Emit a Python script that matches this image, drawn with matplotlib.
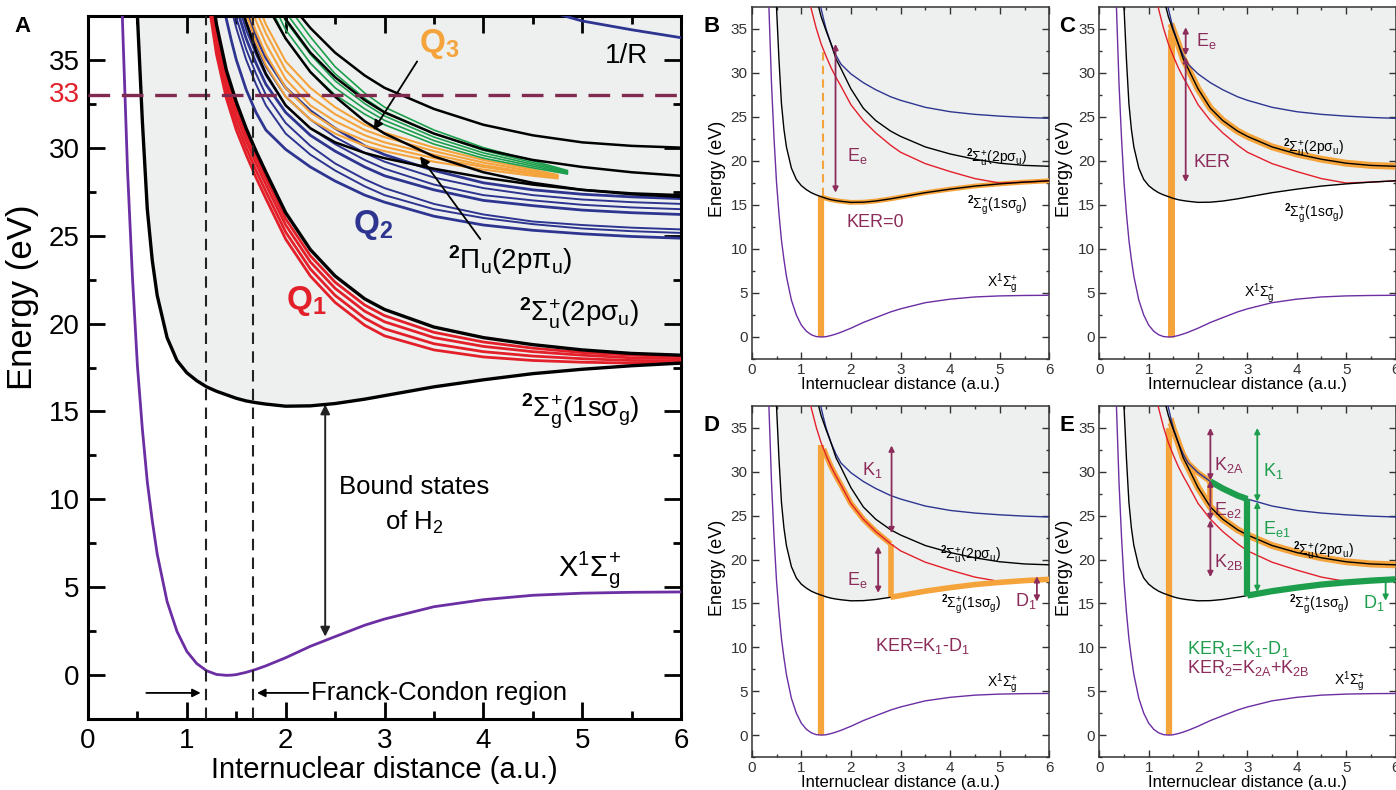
import numpy as np
import matplotlib
matplotlib.use("Agg")
import matplotlib.pyplot as plt

plt.rcParams['font.family'] = ['Liberation Sans', 'DejaVu Sans']
plt.rcParams['mathtext.fontset'] = 'custom'
plt.rcParams['mathtext.rm'] = 'Liberation Sans'
plt.rcParams['mathtext.it'] = 'Liberation Sans:italic'
plt.rcParams['mathtext.bf'] = 'Liberation Sans:bold'
plt.rcParams['mathtext.default'] = 'regular'

nan = np.nan
# ---------------- data (energies in eV, R in a.u.) ----------------
R_grid = [0.30, 0.35, 0.40, 0.45, 0.50, 0.55, 0.60, 0.65, 0.70, 0.80, 0.90, 1.00, 1.10, 1.20,
          1.30, 1.40, 1.45, 1.50, 1.60, 1.70, 1.80, 2.00, 2.25, 2.50, 2.80, 3.00, 3.50, 4.00,
          4.50, 5.00, 5.50, 6.00]
X_state = [48.0, 37.0, 28.7, 22.6, 17.6, 14.0, 11.0, 8.8, 6.9, 4.2, 2.5, 1.36, 0.67, 0.26,
           0.05, 0.0, 0.01, 0.04, 0.17, 0.34, 0.54, 1.0, 1.65, 2.2, 2.85, 3.2, 3.9, 4.3,
           4.55, 4.67, 4.72, 4.74]
S_1ssg = [75, 62, 52, 44, 37.5, 31.5, 26.5, 23.6, 21.6, 19.2, 17.9, 17.2, 16.75, 16.4,
          16.15, 15.95, 15.85, 15.75, 15.6, 15.5, 15.42, 15.3, 15.32, 15.45, 15.7, 15.9, 16.4, 16.8,
          17.15, 17.4, 17.6, 17.75]

R_hi = [1.00, 1.10, 1.20, 1.30, 1.40, 1.45, 1.50, 1.60, 1.70, 1.80, 2.00, 2.25, 2.50, 2.80,
        3.00, 3.50, 4.00, 4.50, 5.00, 5.50, 6.00]
# panel A: 2p sigma_u and Q1 (red) states
A_2psu = [52, 46, 40.8, 37.0, 34.4, 33.5, 32.6, 31.1, 29.8, 28.6, 26.3, 24.2, 22.7, 21.4, 20.8, 19.8, 19.2, 18.8, 18.5, 18.3, 18.2]
Q1_a = [51.5, 45.6, 40.4, 36.6, 34.0, 33.1, 32.2, 30.75, 29.45, 28.25, 25.95, 23.85, 22.35, 21.05, 20.45, 19.5, 18.95, 18.6, 18.35, 18.2, 18.12]
Q1_b = [51, 45.2, 40.0, 36.2, 33.6, 32.7, 31.8, 30.4, 29.1, 27.9, 25.6, 23.5, 22.0, 20.7, 20.1, 19.2, 18.7, 18.4, 18.2, 18.05, 18.0]
Q1_c = [50.5, 44.7, 39.5, 35.8, 33.2, 32.3, 31.4, 30.0, 28.7, 27.5, 25.2, 23.1, 21.6, 20.3, 19.7, 18.85, 18.4, 18.15, 18.0, 17.9, 17.88]
Q1_d = [50, 44.2, 39.0, 35.3, 32.8, 31.9, 31.0, 29.6, 28.3, 27.1, 24.8, 22.7, 21.2, 19.9, 19.3, 18.5, 18.1, 17.9, 17.8, 17.75, 17.75]
# Q2 (blue) states
Q2_a = [55, 49, 44, 40.2, 37.3, 36.1, 35.0, 33.3, 32.0, 31.0, 29.9, 28.9, 28.1, 27.3, 26.9, 26.1, 25.6, 25.3, 25.1, 24.95, 24.85]
Q2_b = [nan, nan, nan, 41.5, 39.0, 37.9, 36.8, 35.0, 33.6, 32.4, 30.8, 29.6, 28.7, 27.8, 27.3, 26.5, 26.0, 25.65, 25.4, 25.25, 25.15]
Q2_c = [nan, nan, nan, 42.2, 39.6, 38.5, 37.4, 35.6, 34.2, 33.0, 31.4, 30.1, 29.1, 28.2, 27.7, 26.8, 26.2, 25.8, 25.6, 25.45, 25.35]
Q2_d = [nan, nan, nan, 43.0, 40.3, 39.1, 38.0, 36.2, 34.8, 33.6, 32.0, 30.7, 29.8, 28.9, 28.4, 27.6, 27.0, 26.7, 26.45, 26.3, 26.2]
Q2_e = [nan, nan, nan, 43.5, 40.8, 39.6, 38.5, 36.7, 35.3, 34.1, 32.4, 31.1, 30.2, 29.3, 28.8, 27.9, 27.3, 27.0, 26.75, 26.6, 26.5]
Q2_f = [nan, nan, nan, 44.0, 41.3, 40.1, 39.0, 37.2, 35.8, 34.6, 32.9, 31.6, 30.6, 29.7, 29.2, 28.3, 27.7, 27.3, 27.05, 26.9, 26.8]
Q2_g = [nan, nan, nan, nan, 42.0, 40.8, 39.6, 37.8, 36.3, 35.1, 33.4, 32.1, 31.1, 30.1, 29.6, 28.7, 28.0, 27.6, 27.35, 27.2, 27.1]
# upper black states
Pi_u = [nan, nan, nan, nan, nan, 41.0, 39.0, 37.1, 35.5, 34.2, 32.4, 31.1, 30.3, 29.7, 29.4, 28.8, 28.3, 27.9, 27.6, 27.4, 27.3]
K_a = [nan, nan, nan, nan, nan, nan, nan, nan, 42.0, 40.5, 38.5, 36.8, 35.4, 34.1, 33.4, 32.2, 31.3, 30.7, 30.3, 30.1, 30.0]
K_b = [nan, nan, nan, nan, nan, nan, nan, nan, 41.0, 39.5, 37.3, 35.4, 34.0, 32.7, 32.0, 30.8, 29.9, 29.3, 28.9, 28.6, 28.4]
K_c = [nan, nan, nan, nan, nan, nan, nan, 41.0, 39.5, 38.2, 36.2, 34.3, 32.9, 31.5, 30.8, 29.5, 28.6, 28.0, 27.6, 27.35, 27.2]
# Q3 (orange) and green states
R_Q3 = [1.5, 1.6, 1.7, 1.8, 2.0, 2.25, 2.5, 2.8, 3.0, 3.5, 4.0, 4.5, 4.75]
Q3_a = [39.5, 37.6, 36.0, 34.7, 32.9, 31.6, 30.8, 30.1, 29.8, 29.2, 28.75, 28.4, 28.25]
Q3_b = [40.2, 38.2, 36.6, 35.3, 33.4, 32.0, 31.1, 30.4, 30.05, 29.4, 28.9, 28.5, 28.3]
Q3_c = [40.8, 38.8, 37.2, 35.9, 33.9, 32.4, 31.5, 30.7, 30.3, 29.6, 29.0, 28.55, 28.35]
Q3_d = [41.4, 39.4, 37.8, 36.5, 34.4, 32.9, 31.9, 31.0, 30.6, 29.8, 29.15, 28.65, 28.4]
Q3_e = [42.0, 40.0, 38.4, 37.0, 34.9, 33.4, 32.3, 31.3, 30.85, 30.0, 29.3, 28.75, 28.45]
R_G = [1.6, 1.7, 1.8, 2.0, 2.25, 2.5, 2.8, 3.0, 3.5, 4.0, 4.5, 4.85]
G_a = [42.0, 40.0, 38.5, 36.2, 34.3, 33.0, 31.9, 31.3, 30.2, 29.4, 28.85, 28.5]
G_b = [42.5, 40.5, 39.0, 36.7, 34.8, 33.4, 32.2, 31.55, 30.4, 29.55, 28.95, 28.55]
G_c = [nan, 41.0, 39.5, 37.2, 35.3, 33.8, 32.5, 31.8, 30.6, 29.7, 29.05, 28.6]
G_d = [nan, 41.5, 40.0, 37.7, 35.8, 34.2, 32.8, 32.05, 30.8, 29.85, 29.15, 28.65]
G_e = [nan, 42.0, 40.5, 38.2, 36.3, 34.6, 33.1, 32.3, 31.0, 30.0, 29.25, 28.7]
# Coulomb 1/R curve
R_coul = [4.5, 5.0, 5.5, 6.0]
E_coul = [38.0, 37.2, 36.7, 36.25]
# small panels (B-E) curves on R_hi
S_2psu = [50, 45, 41, 38.6, 36.4, 35.6, 34.8, 33.3, 31.6, 30.5, 28.2, 26.0, 24.6, 23.4, 22.8, 21.6, 20.8, 20.2, 19.75, 19.5, 19.4]
S_red = [43, 40, 37.3, 35.1, 33.3, 32.6, 31.9, 30.6, 29.5, 28.5, 26.4, 24.6, 23.2, 21.8, 21.0, 19.7, 18.8, 18.0, 17.5, 17.6, 17.75]
S_blue = Q2_a

FC_bounds = [1.19, 1.67]
E_probe = 33.0

# ---------------- style ----------------
PURPLE = '#6c2ea3'
RED = '#e3202a'
BLUE = '#2d3590'
ORANGE = '#f5a33b'
GREEN = '#1d9e4c'
MAROON = '#8c2c5a'
FILL = '#eef0f0'

W, H = 1396, 790
fig = plt.figure(figsize=(W / 100, H / 100), dpi=100)


def box(l, t, r, b):
    return [l / W, 1 - b / H, (r - l) / W, (b - t) / H]


axA = fig.add_axes(box(88, 15.7, 681, 719.3))
axB = fig.add_axes(box(751.7, 7, 1049.3, 359))
axC = fig.add_axes(box(1099.3, 7, 1395.5, 359))
axD = fig.add_axes(box(751.7, 406, 1049.3, 757))
axE = fig.add_axes(box(1099.3, 406, 1395.5, 757))

Rg = np.array(R_grid)
Rh = np.array(R_hi)


def style(ax, big):
    ax.set_xlim(0, 6)
    ax.set_ylim(-2.5, 37.5)
    ax.set_xticks(range(7))
    ax.set_xticks(np.arange(0.5, 6, 1.0), minor=True)
    ax.set_yticks(range(0, 36, 5))
    ax.set_yticks(np.arange(-2.5, 37.5, 5), minor=True)
    if big:
        ax.tick_params(which='major', direction='in', length=12, width=2, labelsize=20,
                       top=True, right=True, pad=6)
        ax.tick_params(which='minor', direction='in', length=6, width=2, top=True, right=True)
        for s in ax.spines.values():
            s.set_linewidth(2.2)
    else:
        ax.tick_params(which='major', direction='in', length=5, width=1, labelsize=11,
                       top=True, right=True, pad=3, colors='#333333')
        ax.tick_params(which='minor', direction='in', length=2.5, width=1, top=True, right=True,
                       colors='#333333')
        for s in ax.spines.values():
            s.set_linewidth(1.1)
            s.set_color('#333333')


L_1ssg = r'$^{\mathbf{2}}\Sigma_{g}^{+}(1s\sigma_{g})$'
L_2psu = r'$^{\mathbf{2}}\Sigma_{u}^{+}(2p\sigma_{u})$'
L_X = r'$X^{1}\Sigma_{g}^{+}$'
L_pi = r'$^{\mathbf{2}}\Pi_{u}(2p\pi_{u})$'

# ---------------- Panel A ----------------
ax = axA
style(ax, True)
ax.fill_between(Rg, S_1ssg, 37.5, color=FILL, zorder=0, lw=0)
ax.plot(Rg, X_state, color=PURPLE, lw=2.0, zorder=3)
for c in [Q2_b, Q2_c, Q2_e, Q2_f]:
    ax.plot(Rh, c, color=BLUE, lw=1.4, zorder=2)
for c in [Q2_a, Q2_d, Q2_g]:
    ax.plot(Rh, c, color=BLUE, lw=2.0, zorder=2)
for c in [Q3_a, Q3_b, Q3_c, Q3_d, Q3_e]:
    ax.plot(R_Q3, c, color=ORANGE, lw=1.5, zorder=2)
for c in [G_a, G_b, G_c, G_d, G_e]:
    ax.plot(R_G, c, color=GREEN, lw=1.2, zorder=2)
for c in [Pi_u, K_a, K_b, K_c]:
    ax.plot(Rh, c, color='black', lw=1.8, zorder=3)
for c in [Q1_a, Q1_b, Q1_c, Q1_d]:
    ax.plot(Rh, c, color=RED, lw=2.0, zorder=3)
ax.plot(Rh, A_2psu, color='black', lw=2.4, zorder=4)
ax.plot(Rg, S_1ssg, color='black', lw=2.4, zorder=4)
ax.plot(R_coul, E_coul, color=BLUE, lw=2.0, zorder=3)
ax.axhline(E_probe, color='#7f2a4e', lw=2.4, dashes=(6.5, 3.5), zorder=5)
for r in FC_bounds:
    ax.axvline(r, color='#222222', lw=1.5, dashes=(5.5, 3.5), zorder=5)
ax.text(-0.013, E_probe, '33', color=RED, fontsize=20, ha='right', va='center',
        transform=ax.get_yaxis_transform())
ax.set_xlabel('Internuclear distance (a.u.)', fontsize=21, labelpad=2)
ax.set_ylabel('Energy (eV)', fontsize=25)
ax.yaxis.set_label_coords(-0.082, 0.6)
ax.text(-0.111, 1.0, 'A', transform=ax.transAxes, fontsize=16, fontweight='bold',
        ha='center', va='top')
ax.text(3.35, 35.9, r'$\mathbf{Q}_{\mathbf{3}}$', color=ORANGE, fontsize=24, ha='left', va='center')
ax.text(2.68, 25.6, r'$\mathbf{Q}_{\mathbf{2}}$', color=BLUE, fontsize=24, ha='left', va='center')
ax.text(2.0, 21.3, r'$\mathbf{Q}_{\mathbf{1}}$', color=RED, fontsize=24, ha='left', va='center')
ax.annotate('', xy=(2.89, 31.0), xytext=(3.33, 34.9),
            arrowprops=dict(arrowstyle='-|>', color='black', lw=1.3, mutation_scale=14,
                            shrinkA=0, shrinkB=0))
ax.annotate('', xy=(3.36, 29.5), xytext=(3.97, 24.8),
            arrowprops=dict(arrowstyle='-|>', color='black', lw=1.3, mutation_scale=14,
                            shrinkA=0, shrinkB=0))
ax.text(4.27, 23.6, L_pi, fontsize=20, ha='center', va='center')
ax.text(4.97, 20.6, L_2psu, fontsize=20, ha='center', va='center')
ax.text(4.98, 15.0, L_1ssg, fontsize=20, ha='center', va='center')
ax.text(5.45, 35.2, '1/R', fontsize=20, ha='center', va='center')
ax.text(5.07, 6.0, L_X, fontsize=21, ha='center', va='center')
ax.text(3.3, 10.7, 'Bound states', fontsize=18.5, ha='center', va='center')
ax.text(3.3, 8.7, r'of H$_{2}$', fontsize=18.5, ha='center', va='center')
ax.annotate('', xy=(2.40, 2.2), xytext=(2.40, 15.4),
            arrowprops=dict(arrowstyle='<|-|>', color='#222222', lw=1.4, mutation_scale=14,
                            shrinkA=0, shrinkB=0))
ax.annotate('', xy=(1.14, -1.0), xytext=(0.59, -1.0),
            arrowprops=dict(arrowstyle='-|>', color='black', lw=1.3, mutation_scale=12,
                            shrinkA=0, shrinkB=0))
ax.annotate('', xy=(1.71, -1.0), xytext=(2.23, -1.0),
            arrowprops=dict(arrowstyle='-|>', color='black', lw=1.3, mutation_scale=12,
                            shrinkA=0, shrinkB=0))
ax.text(2.26, -1.0, 'Franck-Condon region', fontsize=18.5, ha='left', va='center')


# ---------------- small panels ----------------
def base(ax, letter, lx):
    style(ax, False)
    ax.fill_between(Rg, S_1ssg, 37.5, color=FILL, zorder=0, lw=0)
    ax.plot(Rg, X_state, color=PURPLE, lw=1.0, zorder=4)
    ax.plot(Rh, S_blue, color=BLUE, lw=1.0, zorder=4)
    ax.plot(Rh, S_red, color=RED, lw=1.0, zorder=4)
    ax.plot(Rh, S_2psu, color='black', lw=1.0, zorder=4)
    ax.plot(Rg, S_1ssg, color='black', lw=1.0, zorder=4)
    ax.set_xlabel('Internuclear distance (a.u.)', fontsize=12, labelpad=0)
    ax.set_ylabel('Energy (eV)', fontsize=13)
    ax.yaxis.set_label_coords(-0.088, 0.54)
    ax.text(lx, 0.975, letter, transform=ax.transAxes, fontsize=16, fontweight='bold',
            ha='center', va='top')


def arrow(ax, x, y0, y1, color, style='<|-|>', lw=1.3):
    ax.annotate('', xy=(x, y1), xytext=(x, y0),
                arrowprops=dict(arrowstyle=style, color=color, lw=lw, mutation_scale=8,
                                shrinkA=0, shrinkB=0), zorder=7)


def seg(ax, Rv, Ev, lo, hi, color, lw, z=3):
    Rv = np.asarray(Rv)
    Ev = np.asarray(Ev, dtype=float)
    m = (Rv >= lo - 1e-9) & (Rv <= hi + 1e-9)
    ax.plot(Rv[m], Ev[m], color=color, lw=lw, zorder=z, solid_capstyle='butt')


def small_labels(ax, p2, p1, px):
    ax.text(*p2, L_2psu, fontsize=10, ha='center', va='center', zorder=8)
    ax.text(*p1, L_1ssg, fontsize=10, ha='center', va='center', zorder=8)
    ax.text(*px, L_X, fontsize=10, ha='center', va='center', zorder=8)


# B
ax = axB
base(ax, 'B', -0.135)
ax.plot([1.40, 1.40], [0, 16.0], color=ORANGE, lw=4.5, zorder=3, solid_capstyle='butt')
ax.plot([1.43, 1.43], [16.0, 33.0], color=ORANGE, lw=1.5, dashes=(4, 2.5), zorder=3)
seg(ax, Rg, S_1ssg, 1.4, 6.0, ORANGE, 3.5)
arrow(ax, 1.69, 16.4, 33.3, MAROON)
ax.text(1.92, 20.6, r'$E_{e}$', color=MAROON, fontsize=13, ha='left', va='center')
ax.text(1.92, 13.0, 'KER=0', color=MAROON, fontsize=13, ha='left', va='center')
small_labels(ax, (4.93, 20.4), (4.95, 14.9), (5.06, 6.0))

# C
ax = axC
base(ax, 'C', -0.11)
ax.plot([1.45, 1.45], [0, 35.0], color=ORANGE, lw=5, zorder=3, solid_capstyle='butt')
seg(ax, Rh, S_2psu, 1.45, 6.0, ORANGE, 5)
arrow(ax, 1.75, 32.0, 35.2, MAROON)
arrow(ax, 1.75, 17.6, 31.8, MAROON)
ax.text(1.95, 33.6, r'$E_{e}$', color=MAROON, fontsize=13, ha='left', va='center')
ax.text(1.90, 19.8, 'KER', color=MAROON, fontsize=13, ha='left', va='center')
small_labels(ax, (4.34, 21.5), (4.36, 14.0), (3.25, 4.9))

# D
ax = axD
base(ax, 'D', -0.135)
ax.plot([1.40, 1.40], [0, 33.0], color=ORANGE, lw=4.5, zorder=3, solid_capstyle='butt')
seg(ax, Rh, S_red, 1.45, 2.8, ORANGE, 4)
ax.plot([2.8, 2.8], [21.8, 15.7], color=ORANGE, lw=4, zorder=3, solid_capstyle='butt')
seg(ax, Rg, S_1ssg, 2.8, 6.0, ORANGE, 4, z=5)
arrow(ax, 2.82, 23.0, 33.0, MAROON)
arrow(ax, 2.55, 16.2, 21.5, MAROON)
arrow(ax, 5.75, 15.2, 18.1, MAROON)
ax.text(2.22, 30.2, r'$K_{1}$', color=MAROON, fontsize=13, ha='left', va='center')
ax.text(1.92, 17.7, r'$E_{e}$', color=MAROON, fontsize=13, ha='left', va='center')
ax.text(5.3, 15.3, r'$D_{1}$', color=MAROON, fontsize=13, ha='left', va='center')
ax.text(2.49, 10.1, r'KER=K$_{1}$-D$_{1}$', color=MAROON, fontsize=13, ha='left', va='center')
small_labels(ax, (4.42, 20.5), (4.42, 14.8), (5.06, 5.9))

# E
ax = axE
base(ax, 'E', -0.11)
ax.plot([1.42, 1.42], [0, 35.0], color=ORANGE, lw=4.5, zorder=3, solid_capstyle='butt')
seg(ax, Rh, S_2psu, 1.45, 6.0, ORANGE, 5)
seg(ax, Rh, S_blue, 1.45, 2.25, ORANGE, 4)
ax.plot([2.25, 2.25], [28.9, 26.0], color=ORANGE, lw=4, zorder=3, solid_capstyle='butt')
seg(ax, Rh, S_blue, 2.25, 3.0, GREEN, 4.5, z=5)
ax.plot([3.0, 3.0], [26.9, 15.9], color=GREEN, lw=4.5, zorder=5, solid_capstyle='butt')
seg(ax, Rg, S_1ssg, 3.0, 6.0, GREEN, 4.5, z=5)
arrow(ax, 2.25, 29.0, 35.0, MAROON)
arrow(ax, 2.25, 24.5, 29.0, MAROON)
arrow(ax, 2.25, 18.0, 24.5, MAROON)
arrow(ax, 3.2, 26.6, 35.0, GREEN)
arrow(ax, 3.2, 16.3, 26.6, GREEN)
arrow(ax, 5.8, 17.8, 15.3, GREEN, style='-|>')
ax.text(2.33, 30.8, r'$K_{2A}$', color=MAROON, fontsize=13, ha='left', va='center')
ax.text(2.33, 25.7, r'$E_{e2}$', color=MAROON, fontsize=13, ha='left', va='center')
ax.text(2.33, 19.7, r'$K_{2B}$', color=MAROON, fontsize=13, ha='left', va='center')
ax.text(3.32, 30.1, r'$K_{1}$', color=GREEN, fontsize=13, ha='left', va='center')
ax.text(3.32, 23.5, r'$E_{e1}$', color=GREEN, fontsize=13, ha='left', va='center')
ax.text(5.35, 15.1, r'$D_{1}$', color=GREEN, fontsize=13, ha='left', va='center')
ax.text(1.77, 9.8, r'KER$_{1}$=K$_{1}$-D$_{1}$', color=GREEN, fontsize=13, ha='left', va='center')
ax.text(1.77, 7.6, r'KER$_{2}$=K$_{2A}$+K$_{2B}$', color=MAROON, fontsize=13, ha='left', va='center')
small_labels(ax, (4.55, 21.0), (4.45, 14.8), (5.06, 6.05))

fig.savefig('out.png', dpi=100)
